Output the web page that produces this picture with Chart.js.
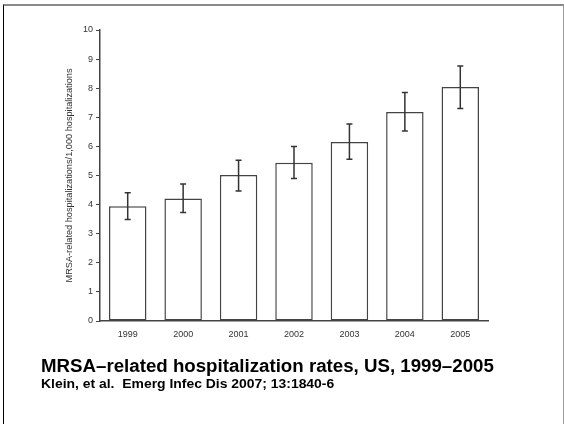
<!DOCTYPE html>
<html>
<head>
<meta charset="utf-8">
<script src="https://cdn.jsdelivr.net/npm/chart.js@4"></script>
<style>
  body { margin: 0; background: #fff; }
  #wrap { position: relative; width: 564px; height: 424px; overflow: hidden; }
  #frame { position: absolute; left: 3px; top: 4px; width: 559px; height: 430px;
           border-left: 1px solid #000; border-top: 2px solid #8a8a8a; border-right: 1px solid #9a9a9a; }
  canvas { position: absolute; left: 0; top: 0; }
  .cap { position: absolute; left: 41px; font-family: "Liberation Sans", Arial, sans-serif; font-weight: bold; color: #000; white-space: nowrap; transform-origin: left top; }
  #title { top: 357px; font-size: 18.7px; line-height: 18px; }
  #source { top: 378px; font-size: 12px; line-height: 12px; transform: scaleX(1.16); }
</style>
</head>
<body>
<div id="wrap">
  <div id="frame"></div>
  <canvas id="chart" width="564" height="424"></canvas>
  <div class="cap" id="title">MRSA–related hospitalization rates, US, 1999–2005</div>
  <div class="cap" id="source">Klein, et al.&nbsp; Emerg Infec Dis 2007; 13:1840-6</div>
</div>
<script>
// MRSA hospitalization rates per 1,000 hospitalizations, with 95% CI
const years = ['1999', '2000', '2001', '2002', '2003', '2004', '2005'];
const rates = [3.94, 4.21, 5.02, 5.44, 6.15, 7.18, 8.04];
const lower = [3.49, 3.73, 4.47, 4.90, 5.56, 6.53, 7.30];
const upper = [4.41, 4.71, 5.52, 6.00, 6.77, 7.85, 8.76];
const yTicks = [0, 1, 2, 3, 4, 5, 6, 7, 8, 9, 10];

const axisColor = '#444';

// draws the error bars on top of each bar
const errorBars = {
    id: 'errorBars',
    afterDatasetsDraw(chart) {
        const ctx = chart.ctx;
        const yScale = chart.scales.y;
        const bars = chart.getDatasetMeta(0).data;
        ctx.save();
        ctx.strokeStyle = '#333';
        ctx.lineWidth = 1.5;
        bars.forEach((bar, i) => {
            const x = bar.x;
            const yLo = yScale.getPixelForValue(lower[i]);
            const yHi = yScale.getPixelForValue(upper[i]);
            ctx.beginPath();
            ctx.moveTo(x, yLo);
            ctx.lineTo(x, yHi);
            ctx.moveTo(x - 3, yLo);
            ctx.lineTo(x + 3, yLo);
            ctx.moveTo(x - 3, yHi);
            ctx.lineTo(x + 3, yHi);
            ctx.stroke();
        });
        ctx.restore();
    }
};

new Chart(document.getElementById('chart'), {
    type: 'bar',
    data: {
        labels: years,
        datasets: [{
            data: rates,
            backgroundColor: '#fff',
            borderColor: axisColor,
            borderWidth: 1.5,
            borderSkipped: false,
            categoryPercentage: 1,
            barPercentage: 0.676
        }]
    },
    options: {
        responsive: false,
        animation: false,
        layout: { padding: { left: 0, top: 30, right: 76, bottom: 0 } },
        plugins: { legend: { display: false }, tooltip: { enabled: false } },
        scales: {
            x: {
                grid: { display: false, drawTicks: false },
                border: { display: true, color: axisColor, width: 1.5 },
                ticks: { padding: 8, color: '#333', font: { family: 'Liberation Sans, Arial', size: 9 } },
                afterFit(scale) { scale.height = 103; }
            },
            y: {
                min: 0,
                max: 10,
                afterBuildTicks(scale) { scale.ticks = yTicks.map(v => ({ value: v })); },
                grid: { drawOnChartArea: false, drawTicks: true, tickLength: 4, color: axisColor, lineWidth: 1 },
                border: { display: true, color: axisColor, width: 1.5 },
                ticks: { padding: 3, color: '#333', font: { family: 'Liberation Sans, Arial', size: 9 } },
                title: {
                    display: true,
                    text: 'MRSA-related hospitalizations/1,000 hospitalizations',
                    color: '#333',
                    font: { family: 'Liberation Sans Narrow, Liberation Sans, Arial', size: 9.2 },
                    padding: { top: 63.5, bottom: 0 }
                },
                afterFit(scale) { scale.width = 100; }
            }
        }
    },
    plugins: [errorBars]
});
</script>
</body>
</html>
